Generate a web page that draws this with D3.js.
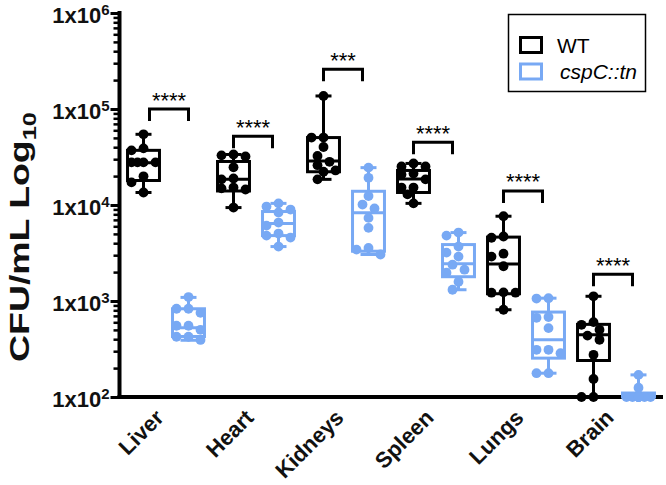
<!DOCTYPE html>
<html><head><meta charset="utf-8">
<script src="https://cdn.jsdelivr.net/npm/d3@7"></script>
<style>body{margin:0;background:#fff} svg{display:block} text{font-family:"Liberation Sans",Arial,sans-serif}</style>
</head><body><svg id="c" width="666" height="485"></svg>
<script>
const categories = ["Liver","Heart","Kidneys","Spleen","Lungs","Brain"];
const seriesNames = ["WT","cspC::tn"];
const colors = ["#000000","#78a9f4"];
// individual CFU/mL points (n=10 per group)
const wtValues = [
  [54500, 38900, 37100, 27800, 27800, 27800, 27800, 19900, 17200, 13500],
  [33600, 32900, 32100, 24700, 18900, 18500, 15200, 14900, 14500, 9400],
  [136700, 50400, 50400, 40200, 32400, 28200, 26000, 22900, 22200, 18500],
  [27100, 25200, 25200, 21300, 20800, 18500, 15200, 15200, 12900, 10400],
  [7640, 4700, 4560, 3110, 2900, 2300, 1230, 1220, 1220, 811],
  [1120, 602, 565, 501, 436, 394, 275, 154, 100, 100]
];
const cspValues = [
  [1100, 830, 830, 753, 552, 552, 501, 424, 424, 393],
  [10400, 9630, 8970, 8350, 6560, 6100, 5040, 4800, 4580, 3690],
  [24500, 19200, 12400, 10100, 9190, 7340, 5780, 3570, 3430, 3050],
  [5160, 4800, 3690, 3190, 2900, 2390, 2120, 1970, 1590, 1310],
  [1070, 1060, 680, 668, 522, 310, 310, 286, 177, 177],
  [170, 125, 100, 100, 100, 100, 100, 100, 100, 100]
];
// box stats: [min, q1, median, q3, max]
const wtBoxStats = [
  [13500, 18000, 27600, 37100, 54500],
  [9400, 14000, 18500, 28400, 33600],
  [18500, 22200, 28700, 50400, 136700],
  [10400, 13500, 18700, 22900, 27100],
  [811, 1190, 2430, 4630, 7640],
  [100, 240, 444, 571, 1120]
];
const cspBoxStats = [
  [390, 427, 526, 830, 1090],
  [3690, 4800, 6410, 8550, 10400],
  [3050, 3300, 8280, 13900, 24500],
  [1310, 1790, 2450, 3870, 5160],
  [177, 254, 394, 767, 1070],
  [100, 100, 100, 110, 170]
];
const sigLevels = [1.0e5, 5.2e4, 2.6e5, 4.5e4, 1.4e4, 1.9e3];
const sigLabels = ["****","****","***","****","****","****"];
const yMajorTicks = [1e2, 1e3, 1e4, 1e5, 1e6];
const yTickExponents = ["2","3","4","5","6"];

const svg = d3.select("#c");
const x = d3.scaleBand().domain(categories).range([121, 661]);
const xs = d3.scaleBand().domain(seriesNames).range([0, x.bandwidth()]);
const y = d3.scaleLog().domain([1e2, 1e6]).range([397, 13]);
const cx = (c, s) => x(c) + xs(s) + xs.bandwidth() / 2;
const boxW = xs.bandwidth() * 0.71;
const capW = 16, r = 4.9;

// axes
const axisX = 119.5;
const minorTicks = [];
yMajorTicks.slice(0, -1).forEach(d => { for (let k = 2; k <= 9; k++) minorTicks.push(k * d); });
const gMinor = svg.append("g").attr("transform", `translate(${axisX},0)`)
  .call(d3.axisLeft(y).tickValues(minorTicks).tickSize(6).tickFormat(""));
gMinor.select(".domain").remove();
gMinor.selectAll(".tick line").attr("stroke", "#000").attr("stroke-width", 2.5);
const gMajor = svg.append("g").attr("transform", `translate(${axisX},0)`)
  .call(d3.axisLeft(y).tickValues(yMajorTicks).tickSize(9).tickPadding(1).tickFormat(() => "1x10"));
gMajor.select(".domain").remove();
gMajor.selectAll(".tick line").attr("stroke", "#000").attr("stroke-width", 3);
gMajor.selectAll(".tick text").attr("fill", "#111").attr("font-size", 22).attr("font-weight", "bold")
  .attr("dy", "0.42em")
  .append("tspan").attr("dy", "-0.55em").attr("font-size", 15).text((d, i) => yTickExponents[i]);
svg.append("line").attr("x1", axisX).attr("x2", axisX).attr("y1", y(1e6) - 2).attr("y2", y(1e2) + 2)
  .attr("stroke", "#000").attr("stroke-width", 4);
svg.append("line").attr("x1", axisX - 2).attr("x2", 663).attr("y1", y(1e2)).attr("y2", y(1e2))
  .attr("stroke", "#000").attr("stroke-width", 4);

// x labels
svg.append("g").selectAll("text").data(categories).join("text")
  .attr("transform", d => `translate(${x(d) + x.bandwidth() / 2 - 1},${419}) rotate(-45)`)
  .attr("text-anchor", "end").attr("font-size", 22).attr("font-weight", "bold").attr("fill", "#111")
  .text(d => d);

// y title
const tg = svg.append("g");
const title = tg.append("text").attr("text-anchor", "middle").attr("font-size", 28).attr("font-weight", "bold").attr("fill", "#111");
title.append("tspan").text("CFU/mL Log");
title.append("tspan").attr("font-size", 19).attr("dy", "0.35em").text("10");
const L = title.node().getComputedTextLength();
tg.attr("transform", `translate(29,237) rotate(-90) scale(${250 / L},1)`);

// boxes and points
function swarm(vals, center) {
  const placed = [];
  const step = 6, cands = [0, -step, step, -2 * step, 2 * step];
  vals.forEach(v => {
    const py = y(v);
    let best = null, bestD = -1;
    for (const o of cands) {
      let md = Infinity;
      placed.forEach(p => { md = Math.min(md, Math.hypot(p.x - (center + o), p.y - py)); });
      if (md >= 2 * r * 0.92) { best = o; bestD = md; break; }
      if (md > bestD) { bestD = md; best = o; }
    }
    placed.push({ x: center + best, y: py, v });
  });
  return placed;
}

const groups = [];
categories.forEach((c, i) => {
  groups.push({ cat: c, s: seriesNames[0], col: colors[0], stats: wtBoxStats[i], vals: wtValues[i] });
  groups.push({ cat: c, s: seriesNames[1], col: colors[1], stats: cspBoxStats[i], vals: cspValues[i] });
});
const gb = svg.append("g");
groups.forEach(g => {
  const c = cx(g.cat, g.s);
  const [mn, q1, md, q3, mx] = g.stats;
  const gg = gb.append("g").attr("stroke", g.col).attr("stroke-width", 3).attr("fill", "none");
  gg.append("line").attr("x1", c).attr("x2", c).attr("y1", y(mx)).attr("y2", y(q3));
  gg.append("line").attr("x1", c).attr("x2", c).attr("y1", y(q1)).attr("y2", y(mn));
  gg.append("line").attr("x1", c - capW / 2).attr("x2", c + capW / 2).attr("y1", y(mx)).attr("y2", y(mx));
  gg.append("line").attr("x1", c - capW / 2).attr("x2", c + capW / 2).attr("y1", y(mn)).attr("y2", y(mn));
  gg.append("rect").attr("x", c - boxW / 2).attr("width", boxW).attr("y", y(q3)).attr("height", Math.max(0, y(q1) - y(q3)))
    .attr("fill", "#fff");
  gg.append("line").attr("x1", c - boxW / 2).attr("x2", c + boxW / 2).attr("y1", y(md)).attr("y2", y(md));
  const pts = swarm(g.vals, c);
  gb.append("g").selectAll("circle").data(pts).join("circle")
    .attr("cx", p => p.x).attr("cy", p => p.y).attr("r", r).attr("fill", g.col);
});

// significance brackets
const gs = svg.append("g");
categories.forEach((c, i) => {
  const shift = i === 0 ? 6 : 0;
  const x1 = cx(c, seriesNames[0]) + shift, x2 = cx(c, seriesNames[1]) - 6 + shift;
  const yy = y(sigLevels[i]);
  gs.append("path").attr("d", `M${x1},${yy + 12}V${yy}H${x2}V${yy + 12}`)
    .attr("fill", "none").attr("stroke", "#000").attr("stroke-width", 3);
  gs.append("text").attr("x", (x1 + x2) / 2).attr("y", yy - 1.5).attr("text-anchor", "middle")
    .attr("font-size", 22).attr("fill", "#000").text(sigLabels[i]);
});

// legend
const lg = svg.append("g");
lg.append("rect").attr("x", 508.5).attr("y", 14.5).attr("width", 137).attr("height", 77)
  .attr("fill", "#fff").attr("stroke", "#000").attr("stroke-width", 1.5);
seriesNames.forEach((s, i) => {
  const yy = 45 + i * 26.5;
  lg.append("rect").attr("x", 520.5).attr("y", yy - 7.5).attr("width", 21).attr("height", 15)
    .attr("fill", "none").attr("stroke", colors[i]).attr("stroke-width", 3);
  lg.append("text").attr("x", 557 + i * 3).attr("y", yy).attr("dy", "0.36em")
    .attr("font-size", 21).attr("font-style", i ? "italic" : "normal").attr("fill", "#000").text(s);
});
</script></body></html>
